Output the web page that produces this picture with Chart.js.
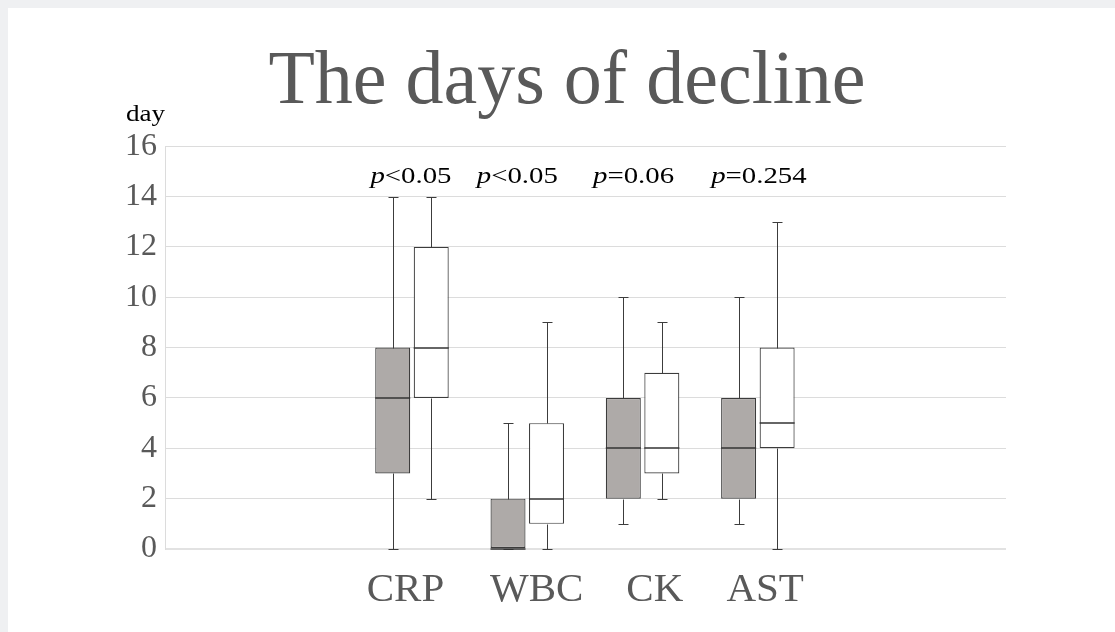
<!DOCTYPE html>
<html><head><meta charset="utf-8">
<script src="https://cdn.jsdelivr.net/npm/chart.js@4/dist/chart.umd.min.js"></script>
<style>
html,body{margin:0;padding:0;background:#eff0f2;width:1115px;height:632px;overflow:hidden}
#wrap{position:absolute;left:8px;top:8px;width:1107px;height:624px;background:#fff}
canvas{display:block}
</style></head><body>
<div id="wrap"><canvas id="c" width="1107" height="624"></canvas></div>
<script>
// ---- data ----
const categories = ['CRP', 'WBC', 'CK', 'AST'];
const groupPos = [1, 2, 3, 4];
const pValues = ['<0.05', '<0.05', '=0.06', '=0.254'];
const titleText = 'The days of decline';
const yUnit = 'day';
const yTicks = [0, 2, 4, 6, 8, 10, 12, 14, 16];

// gray boxes
const grayMin    = [0, 0, 1, 1];
const grayQ1     = [3, 0, 2, 2];
const grayMedian = [6, 0, 4, 4];
const grayQ3     = [8, 2, 6, 6];
const grayMax    = [14, 5, 10, 10];
// white boxes
const whiteMin    = [2, 0, 2, 0];
const whiteQ1     = [6, 1, 3, 4];
const whiteMedian = [8, 2, 4, 5];
const whiteQ3     = [12, 5, 7, 8];
const whiteMax    = [14, 9, 9, 13];

// ---- style / layout constants ----
const SERIF = "'Liberation Serif', 'Times New Roman', serif";
const labelShift = [-0.056, 0.082, 0.106, 0.063];   // x-label offsets in group units
const pShiftPx = [-1, -10, -9, 1];
const xMin = -1.142, xMax = 6.152;
const LINE = '#3c3c3c';

function makeBoxData(min, q1, med, q3, max) {
  return groupPos.map((x, i) => ({ x: x, y: [q1[i], q3[i]], stat: { min: min[i], med: med[i], max: max[i], q1: q1[i], q3: q3[i] } }));
}

const boxPlugin = {
  id: 'boxWhiskers',
  afterDatasetsDraw(chart) {
    const ctx = chart.ctx, ys = chart.scales.y;
    chart.data.datasets.forEach((ds, di) => {
      const meta = chart.getDatasetMeta(di);
      meta.data.forEach((bar, i) => {
        const st = ds.data[i].stat;
        const x = Math.round(bar.x) + 0.5;
        const left = bar.x - bar.width / 2, right = bar.x + bar.width / 2;
        const py = v => Math.round(ys.getPixelForValue(v)) + 0.5;
        ctx.save();
        ctx.strokeStyle = LINE;
        ctx.lineWidth = 1;
        ctx.beginPath();
        if (st.max > st.q3) { ctx.moveTo(x, py(st.q3)); ctx.lineTo(x, py(st.max)); }
        if (st.min < st.q1) { ctx.moveTo(x, py(st.q1)); ctx.lineTo(x, py(st.min)); }
        ctx.moveTo(x - 5, py(st.max)); ctx.lineTo(x + 5, py(st.max));
        ctx.moveTo(x - 5, py(st.min)); ctx.lineTo(x + 5, py(st.min));
        ctx.stroke();
        ctx.strokeStyle = '#333333';
        ctx.lineWidth = 1.5;
        ctx.beginPath();
        const my = Math.round(ys.getPixelForValue(st.med));
        ctx.moveTo(left, my); ctx.lineTo(right, my);
        ctx.stroke();
        ctx.restore();
      });
    });
  }
};

const textPlugin = {
  id: 'annotText',
  afterDraw(chart) {
    const ctx = chart.ctx, xs = chart.scales.x, ys = chart.scales.y;
    ctx.save();
    ctx.fillStyle = '#000';
    ctx.textBaseline = 'alphabetic';
    // y unit label
    ctx.font = '23px ' + SERIF;
    ctx.save();
    ctx.translate(118, 113);
    ctx.scale(1.18, 1);
    ctx.textAlign = 'left';
    ctx.fillText(yUnit, 0, 0);
    ctx.restore();
    // p-values
    const sx = 1.2;
    const fs = 24;
    pValues.forEach((pv, i) => {
      ctx.font = 'italic ' + fs + 'px ' + SERIF;
      const wp = ctx.measureText('p').width;
      ctx.font = fs + 'px ' + SERIF;
      const wr = ctx.measureText(pv).width;
      const total = (wp + wr) * sx;
      const cx = xs.getPixelForValue(groupPos[i]) + pShiftPx[i];
      const y = ys.getPixelForValue(14.55);
      ctx.save();
      ctx.translate(cx - total / 2, y);
      ctx.scale(sx, 1);
      ctx.textAlign = 'left';
      ctx.font = 'italic ' + fs + 'px ' + SERIF;
      ctx.fillText('p', 0, 0);
      ctx.font = fs + 'px ' + SERIF;
      ctx.fillText(pv, wp, 0);
      ctx.restore();
    });
    ctx.restore();
  }
};

new Chart(document.getElementById('c'), {
  type: 'bar',
  data: {
    datasets: [
      { label: 'gray', data: makeBoxData(grayMin, grayQ1, grayMedian, grayQ3, grayMax),
        backgroundColor: '#aeaaa8', borderColor: LINE, borderWidth: 1.2, borderSkipped: false,
        categoryPercentage: 0.668, barPercentage: 0.909 },
      { label: 'white', data: makeBoxData(whiteMin, whiteQ1, whiteMedian, whiteQ3, whiteMax),
        backgroundColor: '#ffffff', borderColor: LINE, borderWidth: 1.2, borderSkipped: false,
        categoryPercentage: 0.668, barPercentage: 0.909 }
    ]
  },
  options: {
    responsive: false,
    animation: false,
    events: [],
    layout: { padding: { left: 11, right: 0, top: 0, bottom: 0 } },
    plugins: {
      legend: { display: false },
      tooltip: { enabled: false },
      title: {
        display: true, text: titleText, color: '#595959',
        font: { family: SERIF, size: 76, weight: 'normal', lineHeight: 1.2 },
        padding: { top: 29, bottom: 18 }
      }
    },
    scales: {
      x: {
        type: 'linear', min: xMin, max: xMax, weight: 0, offset: false,
        afterBuildTicks: s => { s.ticks = groupPos.map(v => ({ value: v })); },
        ticks: { display: false },
        grid: { display: false, drawTicks: false, offset: false },
        border: { display: false },
        afterFit: s => { s.height = 0; }
      },
      x2: {
        type: 'linear', position: 'bottom', min: xMin, max: xMax, weight: 1, offset: false,
        afterBuildTicks: s => { s.ticks = groupPos.map((v, i) => ({ value: v + labelShift[i] })); },
        ticks: {
          display: true, autoSkip: false, maxRotation: 0, padding: 17,
          color: '#595959', font: { family: SERIF, size: 41 },
          callback: (v, i) => categories[i]
        },
        grid: { display: false, drawTicks: false, offset: false },
        border: { display: false },
        afterFit: s => { s.height = 83; }
      },
      y: {
        type: 'linear', min: 0, max: 16, position: 'left',
        afterBuildTicks: s => { s.ticks = yTicks.map(v => ({ value: v })); },
        ticks: { color: '#595959', font: { family: SERIF, size: 32 }, padding: 8 },
        grid: {
          drawTicks: false,
          color: ctx => ctx.tick && ctx.tick.value === 0 ? '#e2e2e2' : '#dcdcdc',
          lineWidth: ctx => ctx.tick && ctx.tick.value === 0 ? 2 : 1
        },
        border: { display: true, color: '#dcdcdc', width: 1 },
        afterFit: s => { s.width = 146; }
      },
      y2: {
        type: 'linear', position: 'right', display: true,
        ticks: { display: false },
        grid: { display: false, drawTicks: false },
        border: { display: false },
        afterFit: s => { s.width = 109; }
      }
    }
  },
  plugins: [boxPlugin, textPlugin]
});
</script>
</body></html>
